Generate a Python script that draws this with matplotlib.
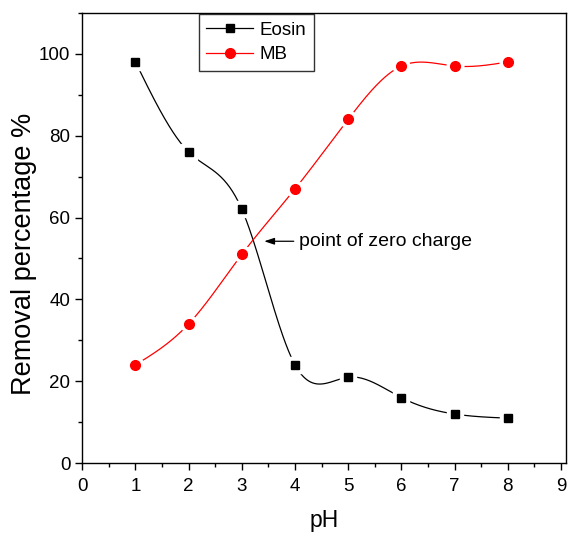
import numpy as np
import matplotlib
matplotlib.use("Agg")
import matplotlib.pyplot as plt
from matplotlib.ticker import MultipleLocator

plt.rcParams['font.family'] = ['Liberation Sans', 'DejaVu Sans']

ph = [1, 2, 3, 4, 5, 6, 7, 8]
eosin = [98, 76, 62, 24, 21, 16, 12, 11]
mb = [24, 34, 51, 67, 84, 97, 97, 98]


def natural_spline(x, y, n=400):
    x = np.asarray(x, float)
    y = np.asarray(y, float)
    k = len(x)
    h = np.diff(x)
    A = np.zeros((k, k))
    b = np.zeros(k)
    A[0, 0] = A[-1, -1] = 1
    for i in range(1, k - 1):
        A[i, i - 1] = h[i - 1]
        A[i, i] = 2 * (h[i - 1] + h[i])
        A[i, i + 1] = h[i]
        b[i] = 3 * ((y[i + 1] - y[i]) / h[i] - (y[i] - y[i - 1]) / h[i - 1])
    c = np.linalg.solve(A, b)
    xs = np.linspace(x[0], x[-1], n)
    ys = np.empty_like(xs)
    for j, xv in enumerate(xs):
        i = min(np.searchsorted(x, xv, side='right') - 1, k - 2)
        bi = (y[i + 1] - y[i]) / h[i] - h[i] * (2 * c[i] + c[i + 1]) / 3
        di = (c[i + 1] - c[i]) / (3 * h[i])
        t = xv - x[i]
        ys[j] = y[i] + bi * t + c[i] * t ** 2 + di * t ** 3
    return xs, ys


fig = plt.figure(figsize=(5.71, 5.33), dpi=100)
ax = fig.add_axes([0.144, 0.131, 0.847, 0.845])

for data, col, mk, ms, lab in [(eosin, 'black', 's', 6, 'Eosin'), (mb, 'red', 'o', 7, 'MB')]:
    xs, ys = natural_spline(ph, data)
    ax.plot(xs, ys, color=col, lw=0.9, zorder=2)
    ax.plot(ph, data, ls='none', marker=mk, ms=ms + 5, mfc='white', mec='white', zorder=3)
    ax.plot(ph, data, ls='none', marker=mk, ms=ms, mfc=col, mec=col, zorder=4)
    ax.plot([], [], color=col, lw=0.9, marker=mk, ms=ms, label=lab)

ax.set_xlim(0, 9.09)
ax.set_ylim(0, 110)
ax.xaxis.set_major_locator(MultipleLocator(1))
ax.xaxis.set_minor_locator(MultipleLocator(0.5))
ax.yaxis.set_major_locator(MultipleLocator(20))
ax.yaxis.set_minor_locator(MultipleLocator(10))
ax.tick_params(which='major', direction='out', length=5, width=1, labelsize=13.5)
ax.tick_params(axis='x', which='major', pad=6)
ax.tick_params(which='minor', direction='out', length=3, width=1)
for s in ax.spines.values():
    s.set_linewidth(1)

ax.set_xlabel('pH', fontsize=16.5, labelpad=10)
ax.set_ylabel('Removal percentage %', fontsize=19.5)
ax.yaxis.set_label_coords(-0.094, 0.464)

ax.annotate('point of zero charge', xy=(3.42, 54.2), xytext=(4.08, 54.2),
            fontsize=14, va='center', ha='left',
            arrowprops=dict(arrowstyle='-|>,head_length=0.6,head_width=0.2', color='black',
                            lw=0.9, mutation_scale=10, shrinkA=2, shrinkB=0))

leg = ax.legend(loc='upper left', bbox_to_anchor=(0.241, 0.997), fontsize=13.5,
                frameon=True, fancybox=False, edgecolor='black', handlelength=2.5,
                borderpad=0.4, labelspacing=0.4, handletextpad=0.35, borderaxespad=0)
leg.get_frame().set_linewidth(1)

fig.savefig('out.png', dpi=100)
